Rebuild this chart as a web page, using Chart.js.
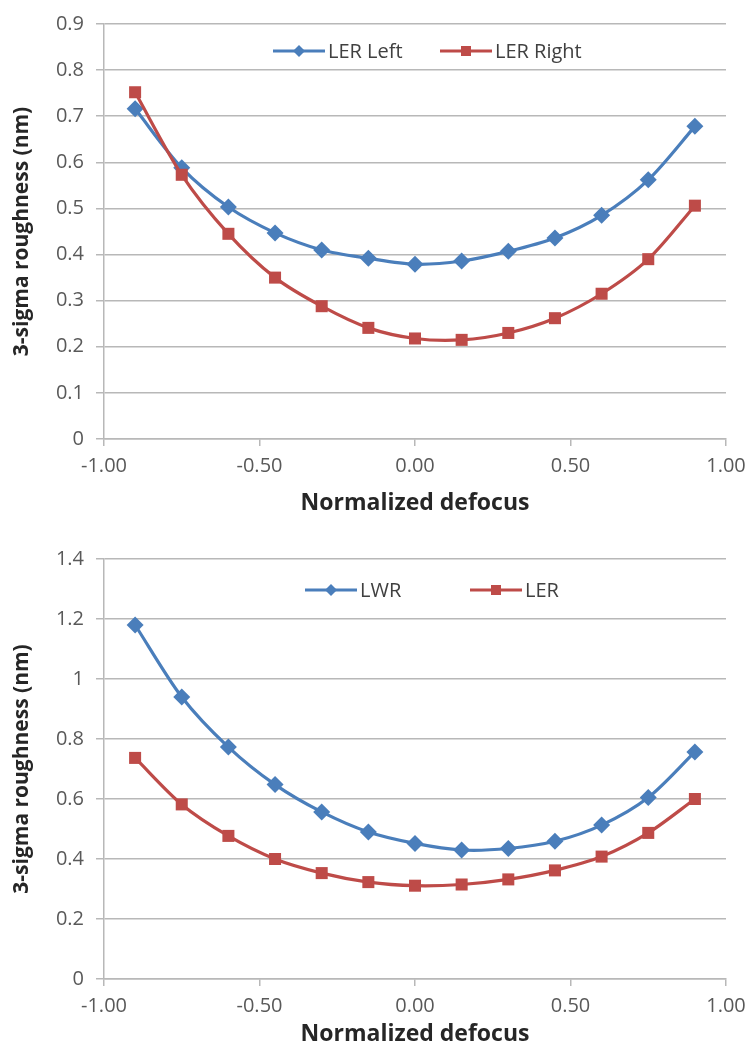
<!DOCTYPE html>
<html>
<head>
<meta charset="utf-8">
<script src="https://cdn.jsdelivr.net/npm/chart.js@4/dist/chart.umd.min.js"></script>
<style>
  html, body { margin: 0; padding: 0; background: #fff; }
  .box { position: relative; width: 754px; }
  #top { height: 520px; }
  #bottom { height: 535px; }
</style>
</head>
<body>
<div class="box" id="top"><canvas id="chartTop"></canvas></div>
<div class="box" id="bottom"><canvas id="chartBottom"></canvas></div>
<script>
// defocus positions shared by both panels
const defocus = [-0.9, -0.75, -0.6, -0.45, -0.3, -0.15, 0, 0.15, 0.3, 0.45, 0.6, 0.75, 0.9]

// top panel
const lerLeft = [0.716, 0.588, 0.503, 0.447, 0.41, 0.392, 0.379, 0.386, 0.407, 0.436, 0.485, 0.562, 0.678]
const lerRight = [0.752, 0.573, 0.445, 0.35, 0.288, 0.241, 0.218, 0.215, 0.23, 0.262, 0.315, 0.39, 0.506]

// bottom panel
const lwr = [1.18, 0.94, 0.773, 0.648, 0.557, 0.49, 0.452, 0.43, 0.435, 0.459, 0.513, 0.605, 0.757]
const ler = [0.737, 0.582, 0.477, 0.4, 0.353, 0.323, 0.311, 0.315, 0.332, 0.362, 0.408, 0.487, 0.6]

const xTickLabels = ["-1.00", "-0.50", "0.00", "0.50", "1.00"]
const yTickLabelsTop = ["0", "0.1", "0.2", "0.3", "0.4", "0.5", "0.6", "0.7", "0.8", "0.9"]
const yTickLabelsBottom = ["0", "0.2", "0.4", "0.6", "0.8", "1", "1.2", "1.4"]

const BLUE = "#4a7ebb"
const RED = "#be4b48"
const GRID = "#b8b8b8"
const FONT = "'Open Sans', Lato, sans-serif"

const points = (values) => values.map((v, i) => ({ x: defocus[i], y: v }))

// legend drawn inside the plot, Excel style (line + marker)
const insideLegend = {
  id: "insideLegend",
  afterDraw(chart, args, opts) {
    const { ctx } = chart
    ctx.save()
    ctx.font = `20px ${FONT}`
    ctx.textBaseline = "middle"
    chart.data.datasets.forEach((ds, i) => {
      const x0 = opts.x + i * opts.step
      const y = opts.y
      ctx.strokeStyle = ds.borderColor
      ctx.lineWidth = 3
      ctx.beginPath()
      ctx.moveTo(x0, y)
      ctx.lineTo(x0 + 52, y)
      ctx.stroke()

      ctx.fillStyle = ds.borderColor
      ctx.beginPath()
      if (ds.pointStyle === "rectRot") {
        ctx.moveTo(x0 + 26, y - 6)
        ctx.lineTo(x0 + 32, y)
        ctx.lineTo(x0 + 26, y + 6)
        ctx.lineTo(x0 + 20, y)
        ctx.closePath()
      } else {
        ctx.rect(x0 + 21, y - 5, 10, 10)
      }
      ctx.fill()

      ctx.fillStyle = "#404040"
      ctx.fillText(ds.label, x0 + 55, y + 1)
    })
    ctx.restore()
  },
}

function buildChart(canvas, cfg) {
  return new Chart(canvas, {
    type: "line",
    data: {
      datasets: [
        {
          label: cfg.labels[0],
          data: points(cfg.blue),
          borderColor: BLUE,
          backgroundColor: BLUE,
          borderWidth: 3.2,
          pointStyle: "rectRot",
          pointRadius: 8.5,
          pointBorderWidth: 0,
          tension: 0.3,
          order: 1,
        },
        {
          label: cfg.labels[1],
          data: points(cfg.red),
          borderColor: RED,
          backgroundColor: RED,
          borderWidth: 3.2,
          pointStyle: "rect",
          pointRadius: 8.5,
          pointBorderWidth: 0,
          tension: 0.3,
          order: 0,
        },
      ],
    },
    options: {
      responsive: true,
      maintainAspectRatio: false,
      animation: false,
      layout: { padding: { top: cfg.top, right: 28, left: 0, bottom: 0 } },
      scales: {
        x: {
          type: "linear",
          min: -1,
          max: 1,
          ticks: {
            stepSize: 0.5,
            color: "#595959",
            font: { family: FONT, size: 20 },
            padding: 8,
            maxRotation: 0,
            callback: (value, index) => xTickLabels[index],
          },
          grid: { drawOnChartArea: false, color: GRID, lineWidth: 1.5, tickLength: 7 },
          border: { color: GRID, width: 1.5 },
          title: {
            display: true,
            text: "Normalized defocus",
            color: "#262626",
            font: { family: FONT, size: 23, weight: "bold" },
            padding: { top: 0, bottom: cfg.titleBottom },
          },
          afterFit: (scale) => { scale.height = cfg.xHeight },
        },
        y: {
          min: 0,
          max: cfg.yMax,
          ticks: {
            stepSize: cfg.yStep,
            color: "#595959",
            font: { family: FONT, size: 20 },
            padding: 12,
            callback: (value, index) => cfg.yTicks[index],
          },
          grid: { color: GRID, lineWidth: 1.5, tickLength: 8 },
          border: { color: GRID, width: 1.5 },
          title: {
            display: true,
            text: "3-sigma roughness (nm)",
            color: "#262626",
            font: { family: FONT, size: 21, weight: "bold" },
            padding: { top: 9, bottom: 0 },
          },
          afterFit: (scale) => { scale.width = 104 },
        },
      },
      plugins: {
        legend: { display: false },
        tooltip: { enabled: false },
        insideLegend: cfg.legend,
      },
    },
    plugins: [insideLegend],
  })
}

buildChart(document.getElementById("chartTop"), {
  labels: ["LER Left", "LER Right"],
  blue: lerLeft,
  red: lerRight,
  yMax: 0.9,
  yStep: 0.1,
  yTicks: yTickLabelsTop,
  top: 19,
  xHeight: 81,
  titleBottom: 3,
  legend: { x: 273, y: 51, step: 167 },
})

buildChart(document.getElementById("chartBottom"), {
  labels: ["LWR", "LER"],
  blue: lwr,
  red: ler,
  yMax: 1.4,
  yStep: 0.2,
  yTicks: yTickLabelsBottom,
  top: 39,
  xHeight: 76,
  titleBottom: 7,
  legend: { x: 305, y: 70, step: 165 },
})
</script>
</body>
</html>
